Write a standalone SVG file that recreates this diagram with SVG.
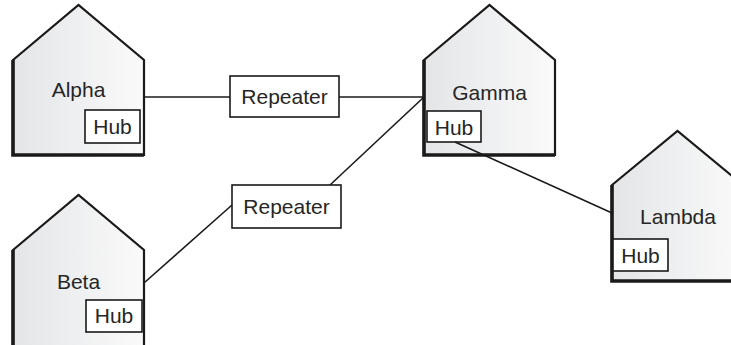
<svg xmlns="http://www.w3.org/2000/svg" width="731" height="345" viewBox="0 0 731 345">
<defs>
<linearGradient id="houseFill" x1="0" y1="0" x2="1" y2="0">
<stop offset="0" stop-color="#e3e5e7"/>
<stop offset="1" stop-color="#fafafa"/>
</linearGradient>
</defs>
<style>
.house{fill:url(#houseFill);stroke:#1a1a1a;stroke-width:2.2;stroke-linejoin:miter}
.shade{fill:none;stroke:#1a1a1a;stroke-width:3.6}
.box{fill:#fff;stroke:#1a1a1a;stroke-width:1.6}
.lbl{font-family:"Liberation Sans",Arial,sans-serif;font-size:21px;fill:#262626;text-anchor:middle}
.conn{stroke:#1a1a1a;stroke-width:1.6;fill:none}
</style>
<rect width="731" height="345" fill="#fff"/>
<g id="alpha">
<polygon class="house" points="13,60 78.5,5 144,60 144,155 13,155"/>
<path class="shade" d="M13,60 L13,155 L144,155"/>
<text class="lbl" x="78.5" y="97">Alpha</text>
<rect class="box" x="85" y="110" width="55" height="33"/>
<text class="lbl" x="112.5" y="134">Hub</text>
</g>
<g id="beta">
<polygon class="house" points="13,250 78.5,195 144,250 144,350 13,350"/>
<path class="shade" d="M13,250 L13,350"/>
<text class="lbl" x="78.5" y="289">Beta</text>
<rect class="box" x="86" y="300" width="56" height="32"/>
<text class="lbl" x="114" y="323">Hub</text>
</g>
<g id="gamma">
<polygon class="house" points="424,60 489.5,5 555,60 555,155 424,155"/>
<path class="shade" d="M424,60 L424,155 L555,155"/>
<text class="lbl" x="489.5" y="100">Gamma</text>
<rect class="box" x="427" y="111" width="54" height="31"/>
<text class="lbl" x="454" y="135">Hub</text>
</g>
<g id="lambda">
<polygon class="house" points="612,185 677.5,131 743,185 743,281 612,281"/>
<path class="shade" d="M612,185 L612,281 L743,281"/>
<text class="lbl" x="678" y="224">Lambda</text>
<rect class="box" x="613" y="239" width="55" height="32"/>
<text class="lbl" x="640.5" y="263">Hub</text>
</g>
<g id="connectors">
<line class="conn" x1="144" y1="97" x2="230" y2="97"/>
<line class="conn" x1="339" y1="97" x2="424" y2="97"/>
<line class="conn" x1="144" y1="283" x2="232" y2="205"/>
<line class="conn" x1="330" y1="185" x2="424" y2="97"/>
<line class="conn" x1="455" y1="142" x2="612" y2="213"/>
</g>
<g id="repeater1">
<rect class="box" x="230" y="76" width="109" height="41"/>
<text class="lbl" x="284.5" y="104">Repeater</text>
</g>
<g id="repeater2">
<rect class="box" x="232" y="185" width="109" height="43"/>
<text class="lbl" x="286.5" y="214">Repeater</text>
</g>
</svg>
